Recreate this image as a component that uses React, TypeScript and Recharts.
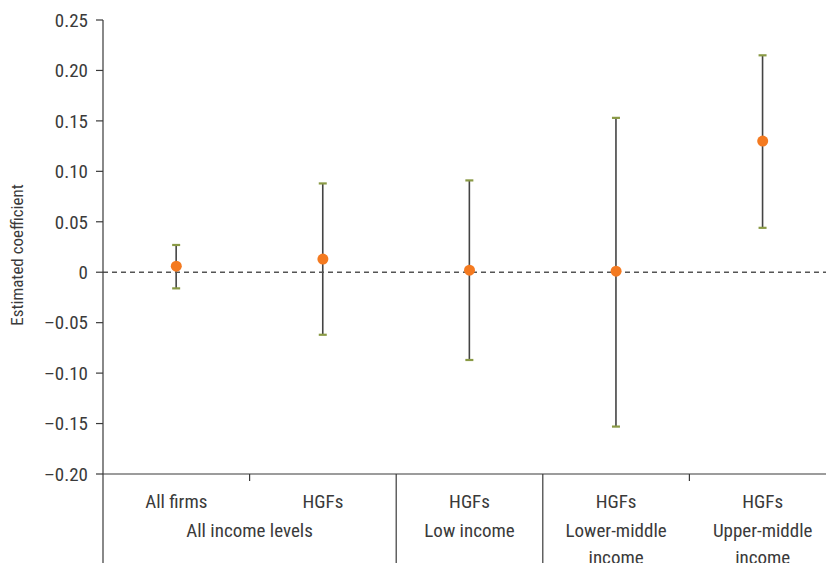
import {
  Bar,
  ComposedChart,
  Line,
  ReferenceLine,
  XAxis,
  YAxis,
} from 'recharts'

const categoryIds = ['all-all', 'all-hgf', 'low-hgf', 'lmi-hgf', 'umi-hgf']
const firmLabels = ['All firms', 'HGFs', 'HGFs', 'HGFs', 'HGFs']
const groupIndex = [0, 0, 1, 2, 3]
const groupLabels = [['All income levels'], ['Low income'], ['Lower-middle', 'income'], ['Upper-middle', 'income']]
// left edge of each category: long divider or short tick
const dividerKind = ['long', 'short', 'long', 'long', 'short']
const estimates = [0.006, 0.013, 0.002, 0.001, 0.13]
const lowerBounds = [-0.016, -0.062, -0.087, -0.153, 0.044]
const upperBounds = [0.027, 0.088, 0.091, 0.153, 0.215]
const yTicks = [-0.2, -0.15, -0.1, -0.05, 0, 0.05, 0.1, 0.15, 0.2, 0.25]

const data = categoryIds.map((id, i) => ({
  id,
  est: estimates[i],
  range: [lowerBounds[i], upperBounds[i]],
}))

const CHART_W = 836
const CHART_H = 563
const MARGIN = { top: 20, right: 0, bottom: 0, left: 0 }
const Y_AXIS_W = 103
const X_AXIS_H = 89
const FONT = '"Liberation Sans Narrow", "Roboto Condensed", "Liberation Sans", sans-serif'
const TEXT = '#3a3a3a'

const plotBottom = CHART_H - MARGIN.bottom - X_AXIS_H
const bandWidth = (CHART_W - MARGIN.left - MARGIN.right - Y_AXIS_W) / categoryIds.length

function formatTick(v: number) {
  if (Math.abs(v) < 1e-9) return '0'
  const s = Math.abs(v).toFixed(2)
  return v < 0 ? `\u2013${s}` : s
}

function ErrorShape(props: any) {
  const { x, y, width, height } = props
  const cx = x + width / 2
  const top = Math.min(y, y + height)
  const bottom = Math.max(y, y + height)
  return (
    <g>
      <line x1={cx} x2={cx} y1={top} y2={bottom} stroke="#444" strokeWidth={1.6} />
      <line x1={cx - 4} x2={cx + 4} y1={top} y2={top} stroke="#8a9a45" strokeWidth={2.2} />
      <line x1={cx - 4} x2={cx + 4} y1={bottom} y2={bottom} stroke="#8a9a45" strokeWidth={2.2} />
    </g>
  )
}

function YLabel(props: any) {
  const { viewBox } = props
  const x = viewBox.x + 17
  const y = viewBox.y + viewBox.height / 2 + 8
  return (
    <text
      x={x}
      y={y}
      transform={`rotate(-90, ${x}, ${y})`}
      textAnchor="middle"
      dominantBaseline="central"
      fill={TEXT}
      fontSize={17}
      fontFamily={FONT}
    >
      Estimated coefficient
    </text>
  )
}

function CategoryTick(props: any) {
  const { x, payload } = props
  const i = payload.index as number
  const left = x - bandWidth / 2
  const g = groupIndex[i]
  const groupStart = groupIndex.indexOf(g) === i
  const groupEnd = groupIndex.lastIndexOf(g)
  const groupCenter = left + ((groupEnd - i + 1) * bandWidth) / 2
  return (
    <g>
      <line
        x1={left}
        x2={left}
        y1={plotBottom}
        y2={dividerKind[i] === 'long' ? CHART_H : plotBottom + 7}
        stroke={TEXT}
        strokeWidth={1.2}
      />
      <text x={x} y={plotBottom + 34} textAnchor="middle" fill={TEXT} fontSize={19} fontFamily={FONT}>
        {firmLabels[i]}
      </text>
      {groupStart &&
        groupLabels[g].map((line, k) => (
          <text
            key={k}
            x={groupCenter}
            y={plotBottom + 63 + k * 27}
            textAnchor="middle"
            fill={TEXT}
            fontSize={19}
            fontFamily={FONT}
          >
            {line}
          </text>
        ))}
    </g>
  )
}

export default function App() {
  return (
    <div style={{ position: 'absolute', left: 0, top: 0, width: 826, height: 563, overflow: 'hidden', background: '#fff' }}>
      <ComposedChart width={CHART_W} height={CHART_H} data={data} margin={MARGIN}>
        <XAxis
          dataKey="id"
          height={X_AXIS_H}
          interval={0}
          tickLine={false}
          axisLine={{ stroke: TEXT, strokeWidth: 1.2 }}
          tick={<CategoryTick />}
        />
        <YAxis
          width={Y_AXIS_W}
          domain={[-0.2, 0.25]}
          ticks={yTicks}
          tickFormatter={formatTick}
          tickSize={7}
          tickMargin={8}
          tick={{ fill: TEXT, fontSize: 19, fontFamily: FONT }}
          axisLine={{ stroke: TEXT, strokeWidth: 1.2 }}
          tickLine={{ stroke: TEXT, strokeWidth: 1.2 }}
          label={<YLabel />}
        />
        <ReferenceLine y={0} stroke="#555" strokeWidth={1.5} strokeDasharray="5 4" />
        <Bar dataKey="range" shape={<ErrorShape />} isAnimationActive={false} />
        <Line
          dataKey="est"
          stroke="none"
          dot={{ r: 5.5, fill: '#f47a20', stroke: 'none' }}
          activeDot={false}
          isAnimationActive={false}
        />
      </ComposedChart>
    </div>
  )
}
